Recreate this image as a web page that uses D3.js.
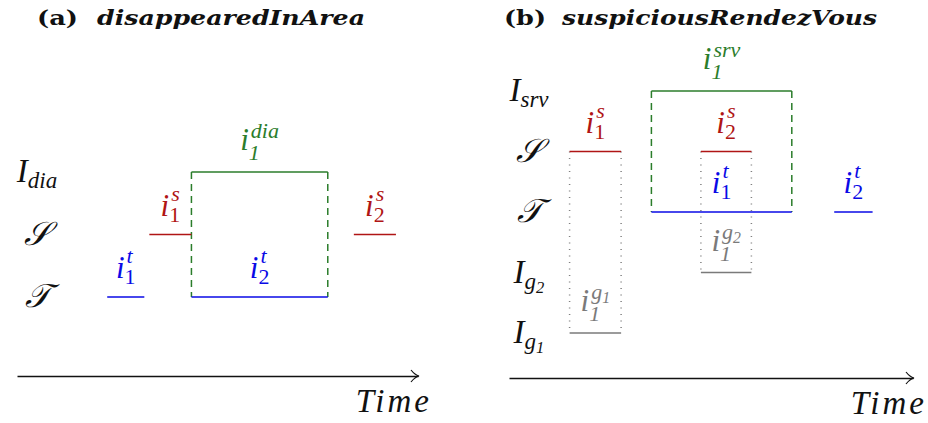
<!DOCTYPE html>
<html><head><meta charset="utf-8">
<script src="https://cdn.jsdelivr.net/npm/d3@7"></script>
<style>
body{margin:0;background:#fff}
.math{font-family:"Liberation Serif","Times New Roman","DejaVu Serif","Noto Serif",serif;font-style:italic}
.ttl{font-family:"DejaVu Serif","Liberation Serif","Noto Serif",serif;font-weight:bold}
</style>
</head><body><svg id="chart" width="928" height="423"></svg>
<script>
// ---------- Panel (a) data ----------
const aTitleTag = "(a)";
const aTitleName = "disappearedInArea";
const aRows = ["T", "S", "Idia"];
const aRowBase = ["𝒯", "𝒮", "I"];
const aRowSub = ["", "", "dia"];
const aNames = ["i1t", "i1s", "i1dia", "i2t", "i2s"];
const aRowOf = ["T", "S", "Idia", "T", "S"];
const aStart = [9.0, 13.2, 17.4, 17.4, 33.6];
const aEnd = [12.7, 17.4, 31.0, 31.0, 37.8];
const aSub = ["1", "1", "1", "2", "2"];
const aSup = ["t", "s", "dia", "t", "s"];
const aLinkInterval = ["i1dia"];
const aLinkTo = ["T"];

// ---------- Panel (b) data ----------
const bTitleTag = "(b)";
const bTitleName = "suspiciousRendezVous";
const bRows = ["Ig1", "Ig2", "T", "S", "Isrv"];
const bRowBase = ["I", "I", "𝒯", "𝒮", "I"];
const bRowSub = ["g1", "g2", "", "", "srv"];
const bNames = ["i1s", "i1srv", "i2s", "i1t", "i2t", "i1g1", "i1g2"];
const bRowOf = ["S", "Isrv", "S", "T", "T", "Ig1", "Ig2"];
const bStart = [6.0, 14.1, 19.0, 14.1, 32.2, 6.0, 19.0];
const bEnd = [11.1, 28.0, 24.0, 28.0, 36.0, 11.1, 24.0];
const bSub = ["1", "1", "2", "1", "2", "1", "1"];
const bSup = ["s", "srv", "s", "t", "t", "g1", "g2"];
const bLinkInterval = ["i1srv", "i1s", "i2s"];
const bLinkTo = ["T", "Ig1", "Ig2"];

const timeDomain = [0, 40];
const axisLabel = "Time";

// ---------- styles ----------
const colorOf = s => s === "t" ? "#0a0ae6" : s === "s" ? "#b01515"
  : (s === "dia" || s === "srv") ? "#2b7d2b" : "#7a7a7a";
const linkDash = s => (s === "dia" || s === "srv") ? "7,5" : "1,5.5";
const linkColor = s => (s === "dia" || s === "srv") ? "#2b7d2b" : "#808080";

const svg = d3.select("#chart");

// one script (sub or sup) as a tspan at absolute position (x, y)
function scriptSpan(t, str, x, y, size, digitItalic) {
  const sp = t.append("tspan").attr("x", x).attr("y", y).style("font-size", size + "px");
  const m = str.match(/^([a-z]+)(\d)$/);
  if (m) {
    sp.append("tspan").text(m[1]);
    sp.append("tspan").attr("y", y + 4).style("font-size", (size * 0.72) + "px").text(m[2]);
  } else if (/^\d$/.test(str)) {
    sp.style("font-style", digitItalic ? "italic" : "normal").text(str);
  } else {
    sp.text(str);
  }
  return sp.node().getComputedTextLength();
}

function mathLabel(g, cx, baseY, base, sub, sup, color, o) {
  const t = g.append("text").attr("class", "math").attr("fill", color);
  const b = t.append("tspan").attr("x", 0).attr("y", 0).style("font-size", o.fs + "px").text(base);
  const bw = b.node().getComputedTextLength();
  let sw = 0, pw = 0;
  if (sub) sw = scriptSpan(t, sub, bw + o.subDx, o.subDy, o.ss, o.digitItalic) + o.subDx;
  if (sup) pw = scriptSpan(t, sup, bw + o.supDx, o.supDy, o.ss, o.digitItalic) + o.supDx;
  const total = bw + Math.max(sw, pw, 0);
  t.attr("transform", `translate(${cx - total / 2},${baseY})`);
}

function drawPanel(p) {
  const g = svg.append("g");
  const x = d3.scaleLinear().domain(timeDomain).range(p.xRange);
  const y = d3.scalePoint().domain(p.rows).range(p.yRange);

  // title
  g.append("text").attr("class", "ttl").attr("x", p.titleX[0]).attr("y", 25)
    .style("font-size", "21px").attr("fill", "#111")
    .attr("textLength", p.titleLen[0]).attr("lengthAdjust", "spacingAndGlyphs").text(p.tag);
  g.append("text").attr("class", "ttl").attr("x", p.titleX[1]).attr("y", 25)
    .style("font-style", "italic").style("font-size", "21px").attr("fill", "#111")
    .attr("textLength", p.titleLen[1]).attr("lengthAdjust", "spacingAndGlyphs")
    .text(p.name);

  // row labels
  p.rows.forEach((r, i) => {
    mathLabel(g, p.rowLabelX, y(r) + 10, p.rowBase[i], p.rowSub[i], "", "#111",
      { fs: 33, ss: 23, subDx: 0, subDy: 6, supDx: 0, supDy: -12, digitItalic: true });
  });

  const iv = p.names.map((n, i) => ({ name: n, row: p.rowOf[i], s: p.start[i], e: p.end[i], sub: p.sub[i], sup: p.sup[i] }));
  const byName = Object.fromEntries(iv.map(d => [d.name, d]));

  // connectors (dashed / dotted verticals)
  p.linkInterval.forEach((n, i) => {
    const d = byName[n];
    [d.s, d.e].forEach(t => {
      g.append("line")
        .attr("x1", x(t)).attr("x2", x(t))
        .attr("y1", y(d.row)).attr("y2", y(p.linkTo[i]))
        .attr("stroke", linkColor(d.sup)).attr("stroke-width", 1.5)
        .attr("stroke-dasharray", linkDash(d.sup));
    });
  });

  // interval lines
  g.selectAll("line.iv").data(iv).join("line").attr("class", "iv")
    .attr("x1", d => x(d.s)).attr("x2", d => x(d.e))
    .attr("y1", d => y(d.row)).attr("y2", d => y(d.row))
    .attr("stroke", d => colorOf(d.sup)).attr("stroke-width", 1.6);

  // interval labels
  iv.forEach(d => {
    const big = d.sup === "dia" || d.sup === "srv" || d.sup.startsWith("g");
    mathLabel(g, (x(d.s) + x(d.e)) / 2, y(d.row) - (big ? 22 : 19), "i", d.sub, d.sup, colorOf(d.sup),
      { fs: 31, ss: 22, subDx: 0, subDy: big ? 10 : 6, supDx: 2, supDy: big ? -12 : -15, digitItalic: big });
  });

  // time axis
  const ax = g.append("g").attr("transform", `translate(0,${p.axisY})`)
    .call(d3.axisBottom(x).tickValues([]).tickSizeOuter(0));
  ax.select(".domain").attr("stroke", "#111").attr("stroke-width", 1.3);
  const xe = p.xRange[1];
  ax.append("path")
    .attr("d", `M${xe - 7},-6 Q${xe - 3},-1 ${xe + 1},0 Q${xe - 3},1 ${xe - 7},6`)
    .attr("fill", "none").attr("stroke", "#111").attr("stroke-width", 1.2);
  g.append("text").attr("class", "math").attr("x", xe + 14).attr("y", p.axisY + 36)
    .attr("text-anchor", "end").style("font-size", "33px").style("letter-spacing", "3px")
    .attr("fill", "#111").text(axisLabel);
}

drawPanel({
  tag: aTitleTag, name: aTitleName, titleX: [37, 97], titleLen: [41, 268],
  rows: aRows, rowBase: aRowBase, rowSub: aRowSub, rowLabelX: 37,
  names: aNames, rowOf: aRowOf, start: aStart, end: aEnd, sub: aSub, sup: aSup,
  linkInterval: aLinkInterval, linkTo: aLinkTo,
  xRange: [17, 418], yRange: [297, 172], axisY: 376
});
drawPanel({
  tag: bTitleTag, name: bTitleName, titleX: [504, 562], titleLen: [42, 315],
  rows: bRows, rowBase: bRowBase, rowSub: bRowSub, rowLabelX: 529,
  names: bNames, rowOf: bRowOf, start: bStart, end: bEnd, sub: bSub, sup: bSup,
  linkInterval: bLinkInterval, linkTo: bLinkTo,
  xRange: [509, 913], yRange: [333, 91], axisY: 378
});
</script></body></html>
